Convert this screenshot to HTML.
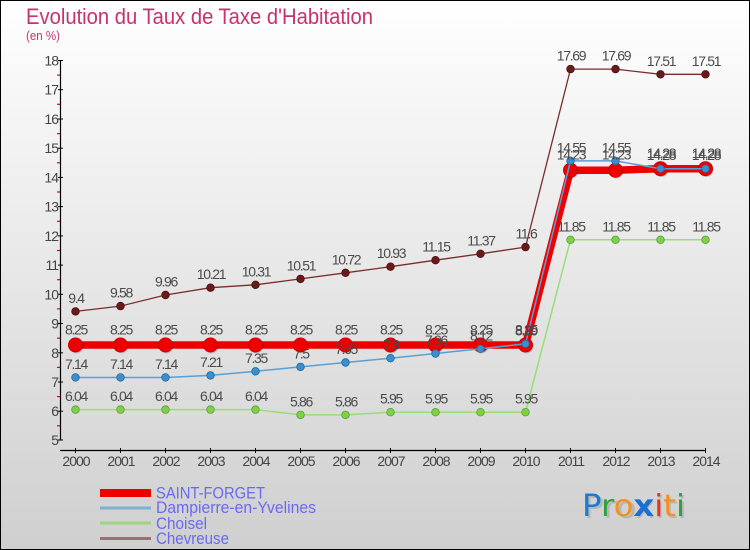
<!DOCTYPE html>
<html><head><meta charset="utf-8"><style>
html,body{margin:0;padding:0;}
body{width:750px;height:550px;overflow:hidden;}
svg{display:block;}
.num{font-family:"Liberation Sans",sans-serif;font-size:14px;fill:#4a4a4a;letter-spacing:-1.3px;text-anchor:middle;}
.ax{font-family:"Liberation Sans",sans-serif;font-size:14px;fill:#444;letter-spacing:-1px;}
.leg{font-family:"Liberation Sans",sans-serif;font-size:17px;fill:#6a6af0;}
</style></head><body>
<svg width="750" height="550" viewBox="0 0 750 550" xmlns="http://www.w3.org/2000/svg">
<defs>
<linearGradient id="bg" x1="0" y1="0" x2="0" y2="1">
<stop offset="0" stop-color="#ffffff"/>
<stop offset="1" stop-color="#cfcfcf"/>
</linearGradient>
</defs>
<rect x="0" y="0" width="750" height="550" fill="url(#bg)"/>
<rect x="0.5" y="0.5" width="749" height="549" fill="none" stroke="#000" stroke-width="1"/>

<!-- Title -->
<text x="26" y="24" font-family="Liberation Sans, sans-serif" font-size="22" fill="#c8336a" textLength="347" lengthAdjust="spacingAndGlyphs">Evolution du Taux de Taxe d'Habitation</text>
<text x="26" y="40" font-family="Liberation Sans, sans-serif" font-size="13" fill="#c8336a" textLength="34" lengthAdjust="spacingAndGlyphs">(en %)</text>

<!-- Axes -->
<line x1="60.5" y1="60" x2="60.5" y2="440.5" stroke="#000" stroke-width="1.2"/>
<line x1="60" y1="450.5" x2="706" y2="450.5" stroke="#000" stroke-width="1.2"/>
<g stroke="#000" stroke-width="1">
<line x1="58" y1="60.5" x2="63" y2="60.5"/><line x1="58" y1="89.7" x2="63" y2="89.7"/><line x1="58" y1="119" x2="63" y2="119"/><line x1="58" y1="148.2" x2="63" y2="148.2"/><line x1="58" y1="177.4" x2="63" y2="177.4"/><line x1="58" y1="206.6" x2="63" y2="206.6"/><line x1="58" y1="235.9" x2="63" y2="235.9"/><line x1="58" y1="265.1" x2="63" y2="265.1"/><line x1="58" y1="294.3" x2="63" y2="294.3"/><line x1="58" y1="323.5" x2="63" y2="323.5"/><line x1="58" y1="352.8" x2="63" y2="352.8"/><line x1="58" y1="382" x2="63" y2="382"/><line x1="58" y1="411.2" x2="63" y2="411.2"/><line x1="58" y1="440" x2="63" y2="440"/>
</g>
<g stroke="#ee0000" stroke-width="1.2">
<line x1="57" y1="75.1" x2="60" y2="75.1"/><line x1="57" y1="104.3" x2="60" y2="104.3"/><line x1="57" y1="133.6" x2="60" y2="133.6"/><line x1="57" y1="162.8" x2="60" y2="162.8"/><line x1="57" y1="192" x2="60" y2="192"/><line x1="57" y1="221.3" x2="60" y2="221.3"/><line x1="57" y1="250.5" x2="60" y2="250.5"/><line x1="57" y1="279.7" x2="60" y2="279.7"/><line x1="57" y1="308.9" x2="60" y2="308.9"/><line x1="57" y1="338.2" x2="60" y2="338.2"/><line x1="57" y1="367.4" x2="60" y2="367.4"/><line x1="57" y1="396.6" x2="60" y2="396.6"/><line x1="57" y1="425.8" x2="60" y2="425.8"/>
</g>
<g class="ax" text-anchor="end">
<text x="58" y="65.5">18</text><text x="58" y="94.7">17</text><text x="58" y="124">16</text><text x="58" y="153.2">15</text><text x="58" y="182.4">14</text><text x="58" y="211.6">13</text><text x="58" y="240.9">12</text><text x="58" y="270.1">11</text><text x="58" y="299.3">10</text><text x="58" y="328.5">9</text><text x="58" y="357.8">8</text><text x="58" y="387">7</text><text x="58" y="416.2">6</text><text x="58" y="445">5</text>
</g>
<g stroke="#000" stroke-width="1">
<line x1="75.5" y1="448" x2="75.5" y2="453"/><line x1="120.5" y1="448" x2="120.5" y2="453"/><line x1="165.5" y1="448" x2="165.5" y2="453"/><line x1="210.5" y1="448" x2="210.5" y2="453"/><line x1="255.5" y1="448" x2="255.5" y2="453"/><line x1="300.5" y1="448" x2="300.5" y2="453"/><line x1="345.5" y1="448" x2="345.5" y2="453"/><line x1="390.5" y1="448" x2="390.5" y2="453"/><line x1="435.5" y1="448" x2="435.5" y2="453"/><line x1="480.5" y1="448" x2="480.5" y2="453"/><line x1="525.5" y1="448" x2="525.5" y2="453"/><line x1="570.5" y1="448" x2="570.5" y2="453"/><line x1="615.5" y1="448" x2="615.5" y2="453"/><line x1="660.5" y1="448" x2="660.5" y2="453"/><line x1="705.5" y1="448" x2="705.5" y2="453"/>
</g>
<g class="ax" text-anchor="middle">
<text x="76" y="466">2000</text><text x="121" y="466">2001</text><text x="166" y="466">2002</text><text x="211" y="466">2003</text><text x="256" y="466">2004</text><text x="301" y="466">2005</text><text x="346" y="466">2006</text><text x="391" y="466">2007</text><text x="436" y="466">2008</text><text x="481" y="466">2009</text><text x="526" y="466">2010</text><text x="571" y="466">2011</text><text x="616" y="466">2012</text><text x="661" y="466">2013</text><text x="706" y="466">2014</text>
</g>

<!-- SAINT-FORGET -->
<polyline fill="none" stroke="#ee0000" stroke-width="7.5" stroke-linejoin="round" points="75.5,345 120.5,345 165.5,345 210.5,345 255.5,345 300.5,345 345.5,345 390.5,345 435.5,345 480.5,345 525.5,345 570.5,170.2 615.5,170.2 660.5,168.7 705.5,168.7"/>
<g fill="rgba(0,0,0,0.15)">
<circle cx="76.5" cy="346.5" r="7"/><circle cx="121.5" cy="346.5" r="7"/><circle cx="166.5" cy="346.5" r="7"/><circle cx="211.5" cy="346.5" r="7"/><circle cx="256.5" cy="346.5" r="7"/><circle cx="301.5" cy="346.5" r="7"/><circle cx="346.5" cy="346.5" r="7"/><circle cx="391.5" cy="346.5" r="7"/><circle cx="436.5" cy="346.5" r="7"/><circle cx="481.5" cy="346.5" r="7"/><circle cx="526.5" cy="346.5" r="7"/><circle cx="571.5" cy="171.7" r="7"/><circle cx="616.5" cy="171.7" r="7"/><circle cx="661.5" cy="170.2" r="7"/><circle cx="706.5" cy="170.2" r="7"/>
</g>
<g fill="#ee0000" stroke="#c80000" stroke-width="1">
<circle cx="75.5" cy="345" r="7"/><circle cx="120.5" cy="345" r="7"/><circle cx="165.5" cy="345" r="7"/><circle cx="210.5" cy="345" r="7"/><circle cx="255.5" cy="345" r="7"/><circle cx="300.5" cy="345" r="7"/><circle cx="345.5" cy="345" r="7"/><circle cx="390.5" cy="345" r="7"/><circle cx="435.5" cy="345" r="7"/><circle cx="480.5" cy="345" r="7"/><circle cx="525.5" cy="345" r="7"/><circle cx="570.5" cy="170.2" r="7"/><circle cx="615.5" cy="170.2" r="7"/><circle cx="660.5" cy="168.7" r="7"/><circle cx="705.5" cy="168.7" r="7"/>
</g>

<!-- Dampierre -->
<polyline fill="none" stroke="#5a9fd4" stroke-width="1.5" points="75.5,377.45 120.5,377.45 165.5,377.45 210.5,375.4 255.5,371.3 300.5,366.9 345.5,362.5 390.5,358.2 435.5,353.5 480.5,348.8 525.5,343.8 570.5,160.9 615.5,160.9 660.5,168.7 705.5,168.7"/>
<g fill="#3a8fd0" stroke="#25679a" stroke-width="0.8">
<circle cx="75.5" cy="377.45" r="3.8"/><circle cx="120.5" cy="377.45" r="3.8"/><circle cx="165.5" cy="377.45" r="3.8"/><circle cx="210.5" cy="375.4" r="3.8"/><circle cx="255.5" cy="371.3" r="3.8"/><circle cx="300.5" cy="366.9" r="3.8"/><circle cx="345.5" cy="362.5" r="3.8"/><circle cx="390.5" cy="358.2" r="3.8"/><circle cx="435.5" cy="353.5" r="3.8"/><circle cx="480.5" cy="348.8" r="3.8"/><circle cx="525.5" cy="343.8" r="3.8"/><circle cx="570.5" cy="160.9" r="3.8"/><circle cx="615.5" cy="160.9" r="3.8"/><circle cx="660.5" cy="168.7" r="3.8"/><circle cx="705.5" cy="168.7" r="3.8"/>
</g>

<!-- Choisel -->
<polyline fill="none" stroke="#99dd77" stroke-width="1.5" points="75.5,409.6 120.5,409.6 165.5,409.6 210.5,409.6 255.5,409.6 300.5,414.9 345.5,414.9 390.5,412.2 435.5,412.2 480.5,412.2 525.5,412.2 570.5,239.8 615.5,239.8 660.5,239.8 705.5,239.8"/>
<g fill="#7ed04a" stroke="#58a030" stroke-width="0.8">
<circle cx="75.5" cy="409.6" r="3.8"/><circle cx="120.5" cy="409.6" r="3.8"/><circle cx="165.5" cy="409.6" r="3.8"/><circle cx="210.5" cy="409.6" r="3.8"/><circle cx="255.5" cy="409.6" r="3.8"/><circle cx="300.5" cy="414.9" r="3.8"/><circle cx="345.5" cy="414.9" r="3.8"/><circle cx="390.5" cy="412.2" r="3.8"/><circle cx="435.5" cy="412.2" r="3.8"/><circle cx="480.5" cy="412.2" r="3.8"/><circle cx="525.5" cy="412.2" r="3.8"/><circle cx="570.5" cy="239.8" r="3.8"/><circle cx="615.5" cy="239.8" r="3.8"/><circle cx="660.5" cy="239.8" r="3.8"/><circle cx="705.5" cy="239.8" r="3.8"/>
</g>

<!-- Chevreuse -->
<polyline fill="none" stroke="#7a2c2c" stroke-width="1.3" points="75.5,311.4 120.5,306.1 165.5,295 210.5,287.7 255.5,284.8 300.5,278.9 345.5,272.8 390.5,266.7 435.5,260.2 480.5,253.8 525.5,247.1 570.5,69.1 615.5,69.1 660.5,74.3 705.5,74.3"/>
<g fill="#6a1a1a" stroke="#4a1010" stroke-width="0.8">
<circle cx="75.5" cy="311.4" r="3.8"/><circle cx="120.5" cy="306.1" r="3.8"/><circle cx="165.5" cy="295" r="3.8"/><circle cx="210.5" cy="287.7" r="3.8"/><circle cx="255.5" cy="284.8" r="3.8"/><circle cx="300.5" cy="278.9" r="3.8"/><circle cx="345.5" cy="272.8" r="3.8"/><circle cx="390.5" cy="266.7" r="3.8"/><circle cx="435.5" cy="260.2" r="3.8"/><circle cx="480.5" cy="253.8" r="3.8"/><circle cx="525.5" cy="247.1" r="3.8"/><circle cx="570.5" cy="69.1" r="3.8"/><circle cx="615.5" cy="69.1" r="3.8"/><circle cx="660.5" cy="74.3" r="3.8"/><circle cx="705.5" cy="74.3" r="3.8"/>
</g>

<!-- Labels -->
<g class="num">
<text x="76" y="334.3">8.25</text><text x="121" y="334.3">8.25</text><text x="166" y="334.3">8.25</text><text x="211" y="334.3">8.25</text><text x="256" y="334.3">8.25</text><text x="301" y="334.3">8.25</text><text x="346" y="334.3">8.25</text><text x="391" y="334.3">8.25</text><text x="436" y="334.3">8.25</text><text x="481" y="334.3">8.25</text><text x="526" y="334.3">8.25</text><text x="571" y="159.5">14.23</text><text x="616" y="159.5">14.23</text><text x="661" y="158">14.28</text><text x="706" y="158">14.28</text>

<text x="76" y="369">7.14</text><text x="121" y="369">7.14</text><text x="166" y="369">7.14</text><text x="211" y="366.9">7.21</text><text x="256" y="362.8">7.35</text><text x="301" y="358.4">7.5</text><text x="346" y="354">7.65</text><text x="391" y="349.7">7.8</text><text x="436" y="345">7.96</text><text x="481" y="340.3">8.12</text><text x="526" y="335.3">8.29</text><text x="571" y="152.4">14.55</text><text x="616" y="152.4">14.55</text><text x="661" y="160.2">14.28</text><text x="706" y="160.2">14.28</text>

<text x="76" y="401.1">6.04</text><text x="121" y="401.1">6.04</text><text x="166" y="401.1">6.04</text><text x="211" y="401.1">6.04</text><text x="256" y="401.1">6.04</text><text x="301" y="406.4">5.86</text><text x="346" y="406.4">5.86</text><text x="391" y="403.7">5.95</text><text x="436" y="403.7">5.95</text><text x="481" y="403.7">5.95</text><text x="526" y="403.7">5.95</text><text x="571" y="231.3">11.85</text><text x="616" y="231.3">11.85</text><text x="661" y="231.3">11.85</text><text x="706" y="231.3">11.85</text>

<text x="76" y="302.9">9.4</text><text x="121" y="297.6">9.58</text><text x="166" y="286.5">9.96</text><text x="211" y="279.2">10.21</text><text x="256" y="276.3">10.31</text><text x="301" y="270.4">10.51</text><text x="346" y="264.3">10.72</text><text x="391" y="258.2">10.93</text><text x="436" y="251.7">11.15</text><text x="481" y="245.3">11.37</text><text x="526" y="238.6">11.6</text><text x="571" y="60.6">17.69</text><text x="616" y="60.6">17.69</text><text x="661" y="65.8">17.51</text><text x="706" y="65.8">17.51</text>
</g>

<!-- Legend -->
<rect x="100" y="489" width="51" height="8" fill="#ee0000"/>
<rect x="100" y="506.5" width="51" height="3" fill="#80b0d0"/>
<rect x="100" y="521.5" width="51" height="3" fill="#9cd680"/>
<rect x="100" y="537" width="51" height="3" fill="#9a7070"/>
<text class="leg" x="156" y="498.3" textLength="109" lengthAdjust="spacingAndGlyphs">SAINT-FORGET</text>
<text class="leg" x="156" y="513" textLength="160" lengthAdjust="spacingAndGlyphs">Dampierre-en-Yvelines</text>
<text class="leg" x="156" y="529" textLength="51" lengthAdjust="spacingAndGlyphs">Choisel</text>
<text class="leg" x="156" y="544" textLength="73" lengthAdjust="spacingAndGlyphs">Chevreuse</text>

<!-- Logo -->
<text x="584" y="518" font-family="DejaVu Sans, sans-serif" font-size="30" fill="rgba(0,0,0,0.13)" textLength="103" lengthAdjust="spacingAndGlyphs">Proxiti</text>
<text x="582" y="516" font-family="DejaVu Sans, sans-serif" font-size="30" textLength="103" lengthAdjust="spacingAndGlyphs"><tspan fill="#1e7ad0">P</tspan><tspan fill="#2da040">r</tspan><tspan fill="#f39020">o</tspan><tspan fill="#1a70d0" font-weight="bold">x</tspan><tspan fill="#e8301c">i</tspan><tspan fill="#f39020">t</tspan><tspan fill="#2da040">i</tspan></text>
</svg>
</body></html>
